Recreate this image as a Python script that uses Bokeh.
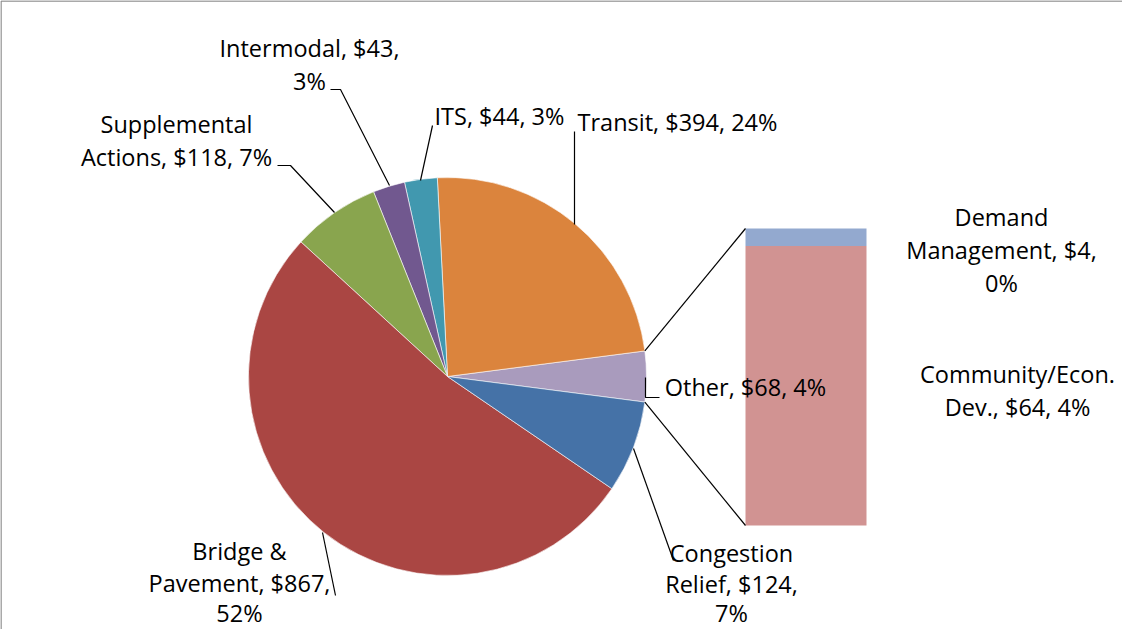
from bokeh.plotting import figure
from bokeh.models import Range1d
from bokeh.embed import file_html
from bokeh.resources import INLINE
from bokeh.core.properties import value
import math

# ---- data ----
pie_names = ["Other", "Transit", "ITS", "Intermodal", "Supplemental Actions",
             "Bridge & Pavement", "Congestion Relief"]
pie_values = [68, 394, 44, 43, 118, 867, 124]
pie_colors = ["#A99BBD", "#DB843D", "#4198AF", "#71588F", "#89A54E",
              "#AA4643", "#4572A7"]
bar_names = ["Community/Econ. Dev.", "Demand Management"]
bar_values = [64, 4]
bar_colors = ["#D19392", "#93A9CF"]

# labels: (lines, x center, baselines) in reference pixel coordinates
label_lines = [
    (["Intermodal, $43,", "3%"], 312, [60, 93]),
    (["Supplemental", "Actions, $118, 7%"], 179, [136, 169]),
    (["ITS, $44, 3%"], 502, [128]),
    (["Transit, $394, 24%"], 680, [134]),
    (["Other, $68, 4%"], 748, [399]),
    (["Demand", "Management, $4,", "0%"], 1004, [229, 262, 295]),
    (["Community/Econ.", "Dev., $64, 4%"], 1020, [386, 419]),
    (["Congestion", "Relief, $124,", "7%"], 734, [565, 596, 625]),
    (["Bridge &", "Pavement, $867,", "52%"], 242, [563, 595, 625]),
]
leaders = [
    [(333, 92), (343, 92), (392, 188)],
    [(280, 168), (293, 168), (337, 215)],
    [(435, 128), (423, 183)],
    [(577, 134), (577, 227)],
    [(648, 380), (648, 400), (662, 400)],
    [(636, 451), (676, 563)],
    [(325, 535), (338, 598)],
]

W, H = 1122, 629
OFF = 3
def X(rx):
    return rx - OFF
def Y(ry):
    return H - (ry - OFF)

p = figure(width=W, height=H, output_backend="svg", toolbar_location=None,
           x_range=Range1d(0, W), y_range=Range1d(0, H),
           min_border=0, border_fill_color="white", outline_line_color=None)
p.axis.visible = False
p.grid.visible = False

# pie
cx, cy, r = X(450), Y(379), 199
total = sum(pie_values)
start = -math.pi * pie_values[0] / total
starts, ends = [], []
a = start
for v in pie_values:
    starts.append(a)
    a += 2 * math.pi * v / total
    ends.append(a)
p.wedge(x=[cx] * len(pie_values), y=[cy] * len(pie_values), radius=r,
        start_angle=starts, end_angle=ends, direction="anticlock",
        fill_color=pie_colors, line_color="white", line_width=0.6)

# stacked bar of "Other"
bx0, bx1 = X(748), X(869)
btop, bbot = Y(231), Y(528)
scale = (btop - bbot) / sum(bar_values)
bottoms, tops = [], []
b = bbot
for v in bar_values:
    bottoms.append(b)
    b += v * scale
    tops.append(b)
p.quad(left=[bx0] * 2, right=[bx1] * 2, bottom=bottoms, top=tops,
       fill_color=bar_colors, line_color=None)

# connector lines from pie "Other" slice to bar
p1 = (cx + r * math.cos(ends[0]), cy + r * math.sin(ends[0]))
p2 = (cx + r * math.cos(starts[0]), cy + r * math.sin(starts[0]))
p.segment(x0=[p1[0], p2[0]], y0=[p1[1], p2[1]], x1=[bx0, bx0], y1=[btop, bbot],
          line_color="black", line_width=1.2)

# leader lines
for pts in leaders:
    p.line([X(q[0]) for q in pts], [Y(q[1]) for q in pts], line_color="black",
           line_width=1.2)

# labels
xs, ys, ts = [], [], []
for lines, x, bls in label_lines:
    for t, bl in zip(lines, bls):
        xs.append(X(x)); ys.append(Y(bl - 9.5)); ts.append(t)
p.text(x=xs, y=ys, text=ts, text_align="center", text_baseline="middle",
       text_font=value("Open Sans"), text_font_size="23.5px", text_color="black")

# chart border (top and left)
p.segment(x0=[0.5, 0.5], y0=[H - 0.5, H - 0.5], x1=[W, 0.5], y1=[H - 0.5, 0],
          line_color="#8c8c8c", line_width=1.5)

open("out.html", "w").write(file_html(p, INLINE))
